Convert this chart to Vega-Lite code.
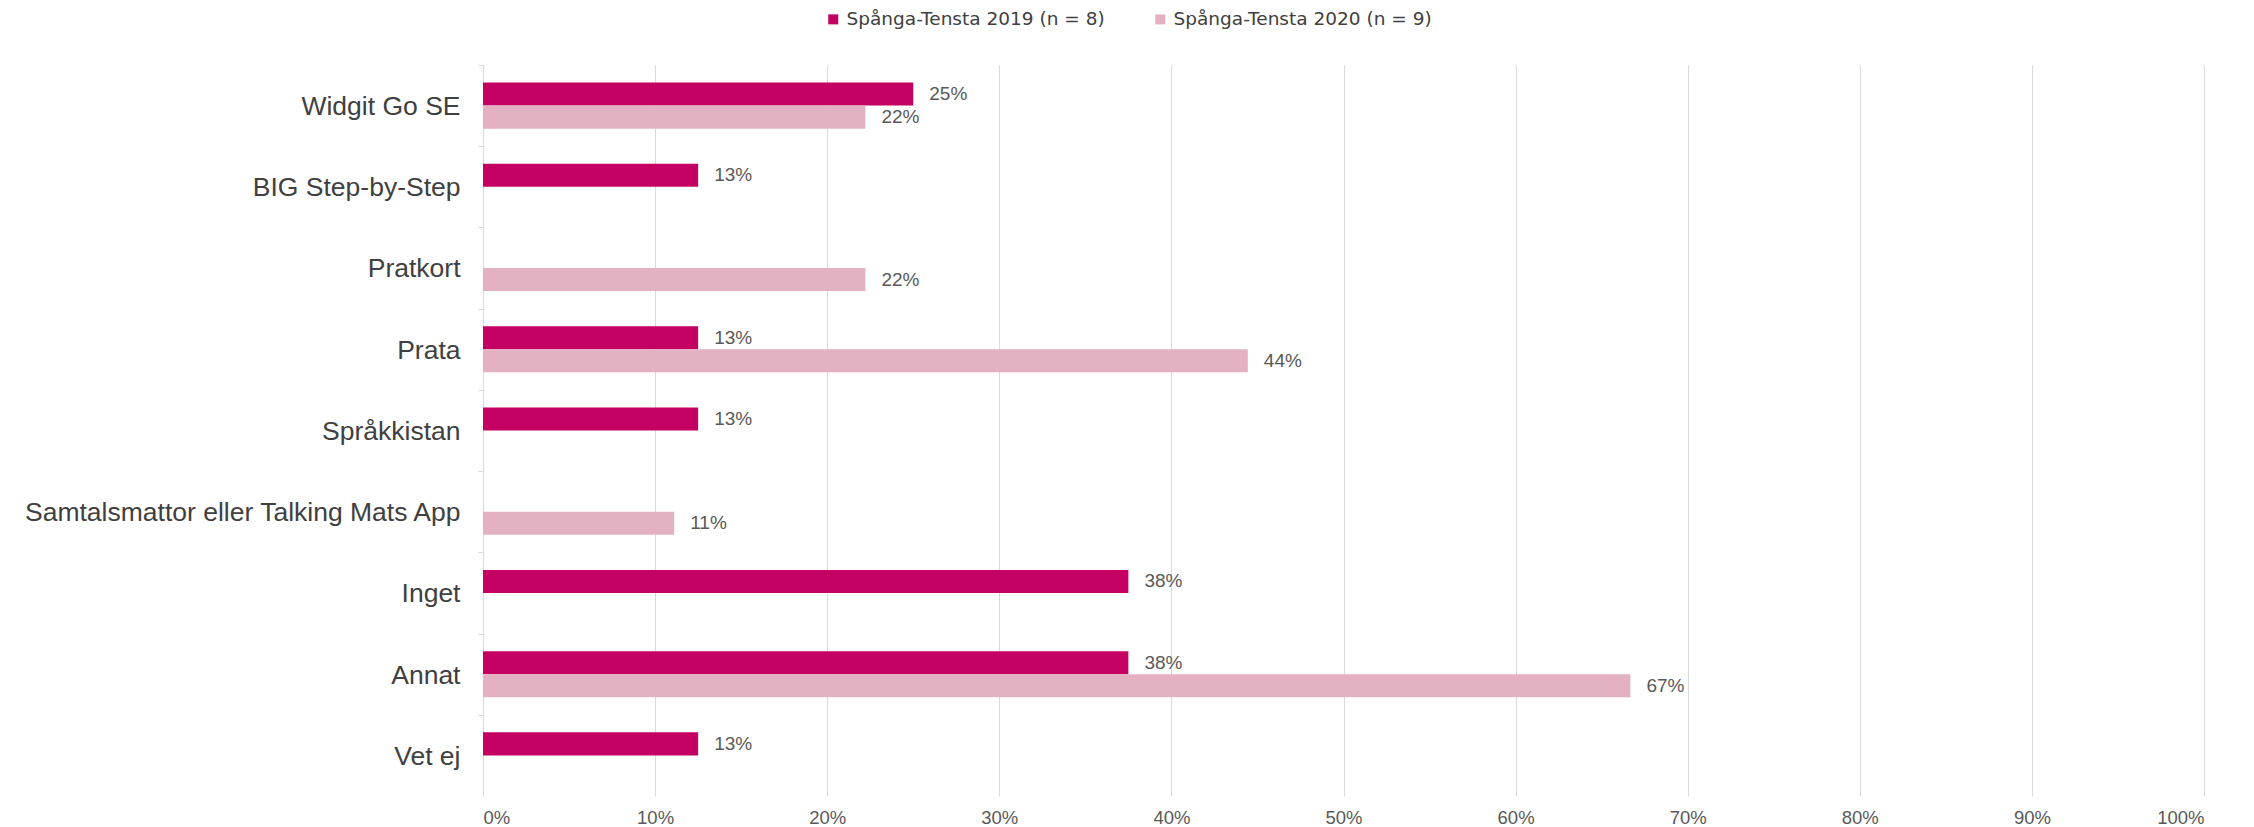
{
  "$schema": "https://vega.github.io/schema/vega-lite/v6.json",
  "autosize": {"type": "none"},
  "padding": {"left": 483, "top": 65, "right": 50, "bottom": 31},
  "width": 1721,
  "height": 731,
  "config": {"font": "Liberation Sans", "view": {"stroke": null}},
  "data": {
    "values": [
      {"item": "Widgit Go SE", "series": "Spånga-Tensta 2019 (n = 8)", "value": 0.25},
      {"item": "Widgit Go SE", "series": "Spånga-Tensta 2020 (n = 9)", "value": 0.2222},
      {"item": "BIG Step-by-Step", "series": "Spånga-Tensta 2019 (n = 8)", "value": 0.125},
      {"item": "Pratkort", "series": "Spånga-Tensta 2020 (n = 9)", "value": 0.2222},
      {"item": "Prata", "series": "Spånga-Tensta 2019 (n = 8)", "value": 0.125},
      {"item": "Prata", "series": "Spånga-Tensta 2020 (n = 9)", "value": 0.4444},
      {"item": "Språkkistan", "series": "Spånga-Tensta 2019 (n = 8)", "value": 0.125},
      {"item": "Samtalsmattor eller Talking Mats App", "series": "Spånga-Tensta 2020 (n = 9)", "value": 0.1111},
      {"item": "Inget", "series": "Spånga-Tensta 2019 (n = 8)", "value": 0.375},
      {"item": "Annat", "series": "Spånga-Tensta 2019 (n = 8)", "value": 0.375},
      {"item": "Annat", "series": "Spånga-Tensta 2020 (n = 9)", "value": 0.6667},
      {"item": "Vet ej", "series": "Spånga-Tensta 2019 (n = 8)", "value": 0.125}
    ]
  },
  "encoding": {
    "y": {
      "field": "item",
      "type": "nominal",
      "sort": ["Widgit Go SE", "BIG Step-by-Step", "Pratkort", "Prata", "Språkkistan", "Samtalsmattor eller Talking Mats App", "Inget", "Annat", "Vet ej"],
      "scale": {"paddingInner": 0.433, "paddingOuter": 0.2165},
      "axis": {
        "title": null,
        "grid": false,
        "tickOffset": -40.6,
        "labelOffset": 41.5,
        "labelFontSize": 26.5,
        "labelColor": "#404040",
        "labelPadding": 18,
        "tickSize": 5,
        "tickColor": "#d9d9d9",
        "domainColor": "#d9d9d9",
        "labelLimit": 600
      }
    },
    "yOffset": {
      "field": "series",
      "type": "nominal",
      "sort": ["Spånga-Tensta 2019 (n = 8)", "Spånga-Tensta 2020 (n = 9)"]
    },
    "x": {
      "field": "value",
      "type": "quantitative",
      "scale": {"domain": [0, 1], "nice": false},
      "axis": {
        "title": null,
        "format": ".0%",
        "values": [0, 0.1, 0.2, 0.3, 0.4, 0.5, 0.6, 0.7, 0.8, 0.9, 1],
        "grid": true,
        "gridColor": "#d9d9d9",
        "domain": false,
        "ticks": false,
        "labelFontSize": 18.5,
        "labelColor": "#595959",
        "labelPadding": 12
      }
    }
  },
  "layer": [
    {
      "mark": {"type": "bar"},
      "encoding": {
        "color": {
          "field": "series",
          "type": "nominal",
          "scale": {
            "domain": ["Spånga-Tensta 2019 (n = 8)", "Spånga-Tensta 2020 (n = 9)"],
            "range": ["#c40062", "#e4b1c2"]
          },
          "legend": {
            "orient": "none",
            "legendX": 341,
            "legendY": -55,
            "direction": "horizontal",
            "title": null,
            "symbolType": "square",
            "symbolSize": 100,
            "symbolStrokeWidth": 0,
            "labelFont": "DejaVu Sans",
            "labelFontSize": 18.5,
            "labelColor": "#404040",
            "labelOffset": 4,
            "labelLimit": 400,
            "columnPadding": 46
          }
        }
      }
    },
    {
      "mark": {"type": "text", "align": "left", "baseline": "middle", "dx": 16, "fontSize": 19, "color": "#595959"},
      "encoding": {
        "text": {"field": "value", "type": "quantitative", "format": ".0%"}
      }
    }
  ]
}
